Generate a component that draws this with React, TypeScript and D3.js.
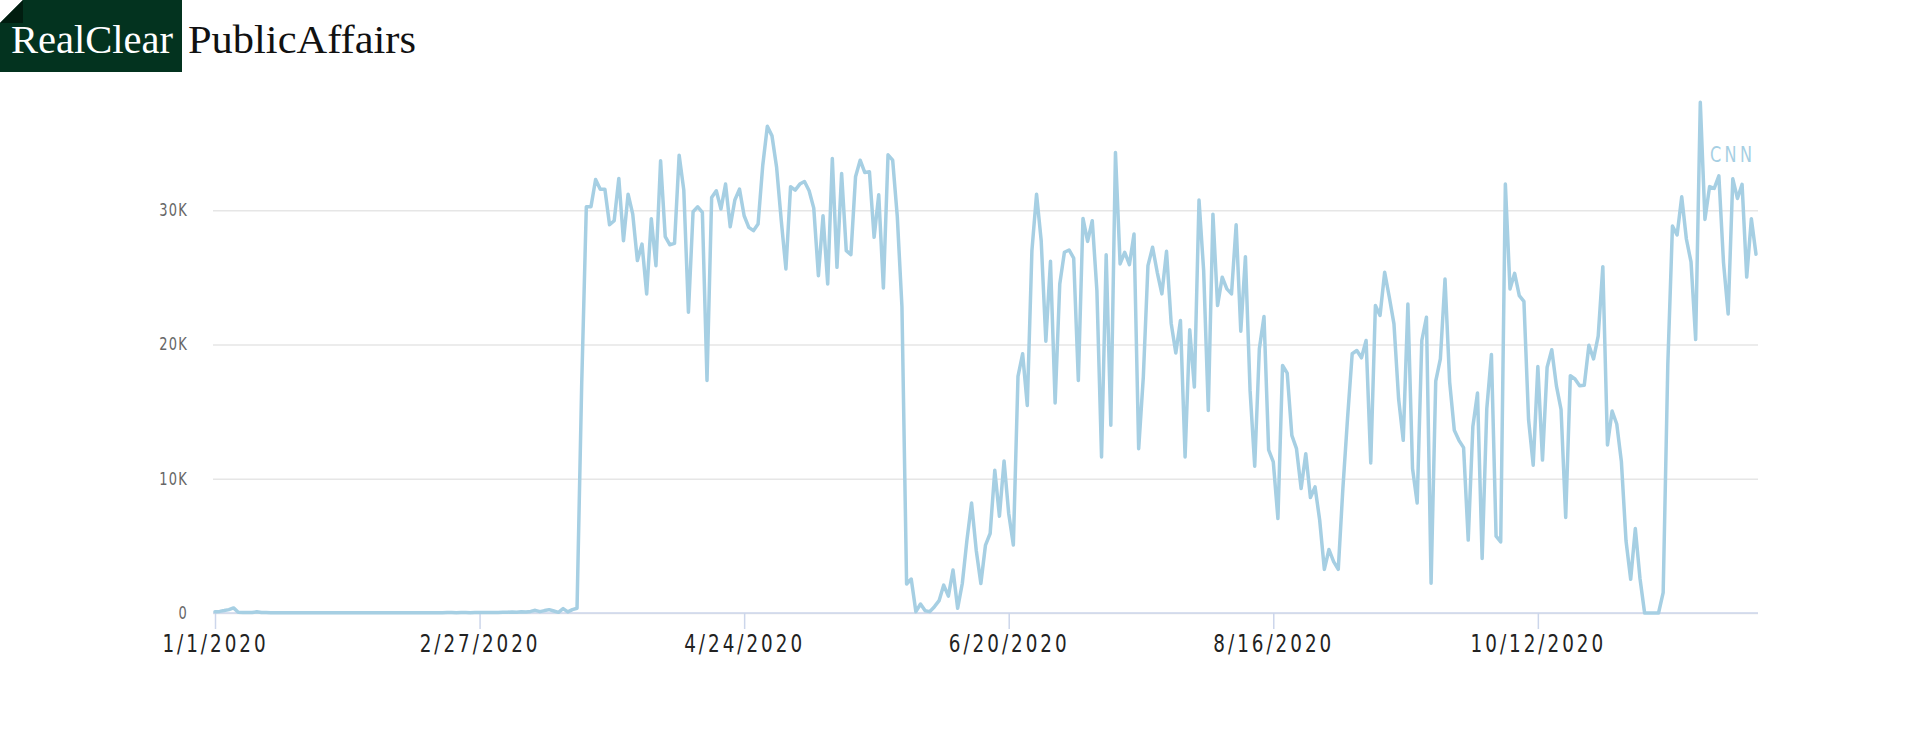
import { useEffect, useRef } from "react";
import * as d3 from "d3";

// daily CNN values, one per day starting 1/1/2020
const startDate = Date.UTC(2020, 0, 1);
const cnnValues: number[] = [
  // Jan
  100, 120, 180, 250, 380, 60, 40, 40, 40, 90,
  30, 30, 20, 20, 20, 20, 20, 20, 20, 20,
  20, 20, 20, 20, 20, 20, 20, 20, 20, 20,
  20, 20, 20, 20, 20, 20, 20, 20, 20, 20,
  20, 20, 20, 20, 20, 20, 20, 20, 20, 20,
  30, 30, 20, 30, 30, 20, 30, 30, 40, 30,
  40, 40, 60, 50, 80, 60, 100, 80, 120, 200,
  100, 180, 250, 150, 50, 330, 80, 250, 350, 17000,
  30260, 30260, 32290, 31570, 31570, 28920, 29220, 32370, 27730, 31200,
  29710, 26250, 27480, 23770, 29370, 25870, 33680, 28030, 27430, 27530,
  34100, 31500, 22400, 29890, 30260, 29840, 17320, 30950, 31450, 30090,
  31950, 28770, 30760, 31570, 29590, 28720, 28480, 28970, 33310, 36260,
  35540, 33180, 29220, 25630, 31750, 31500, 31950, 32140, 31450, 30160,
  25130, 29590, 24510, 33850, 25750, 32740, 26990, 26690, 32490, 33730,
  32810, 32860, 27980, 31150, 24210, 34130, 33730, 29500, 22800, 2160,
  2530, 100, 670, 170, 100, 470, 920, 2080, 1260, 3200,
  350, 2200, 5430, 8200, 4680, 2200, 5060, 5920, 10630, 7210,
  11330, 7410, 5060, 17620, 19310, 15460, 26990, 31200, 27730, 20250,
  26200, 15640, 24510, 26870, 27040, 26440, 17320, 29390, 27680, 29220,
  24010, 11620, 26690, 13980, 34300, 26000, 26870, 25950, 28230, 12240,
  17570, 25870, 27240, 25380, 23770, 26940, 21590, 19360, 21780, 11620,
  21090, 16830, 30760, 25500, 15090, 29710, 22900, 25010, 24140, 23770,
  28920, 20990, 26540, 16580, 10930, 19680, 22080, 12150, 11250, 7040,
  18440, 17870, 13230, 12240, 9270, 11870, 8600, 9390, 6910, 3250,
  4730, 3820, 3250, 9300, 14500, 19310, 19550, 19010, 20300, 11180,
  22900, 22160, 25380, 23520, 21540, 15960, 12860, 23020, 10760, 8200,
  20300, 22030, 2210, 17270, 18930, 24880, 17200, 13610, 12860, 12320,
  5430, 13900, 16380, 4060, 15220, 19260, 5720, 5300, 31950, 24140,
  25300, 23640, 23210, 14410, 11010, 18360, 11390, 18310, 19610, 16920,
  15160, 7120, 17680, 17430, 16920, 16970, 19940, 18930, 20620, 25800,
  12520, 15040, 14080, 11260, 5360, 2510, 6290, 2590, 0, 0,
  0, 0, 1510, 18500, 28820, 28160, 31000, 27860, 26150, 20370,
  38040, 29320, 31760, 31630, 32560, 26100, 22280, 32340, 30880, 31930,
  25020, 29370, 26730,
];

const seriesName = "CNN";
const xTickDates = [
  Date.UTC(2020, 0, 1),
  Date.UTC(2020, 1, 27),
  Date.UTC(2020, 3, 24),
  Date.UTC(2020, 5, 20),
  Date.UTC(2020, 7, 16),
  Date.UTC(2020, 9, 12),
];
const xTickLabels = ["1/1/2020", "2/27/2020", "4/24/2020", "6/20/2020", "8/16/2020", "10/12/2020"];
const yTickValues = [0, 10000, 20000, 30000];
const yTickLabels = ["0", "10K", "20K", "30K"];

const DAY = 24 * 3600 * 1000;
const condensed = "'DejaVu Sans Condensed', 'Liberation Sans Narrow', sans-serif";
const squeeze = 0.85; // narrow the condensed face a bit more

export default function App() {
  const width = 1920;
  const height = 740;
  const margin = { left: 215, right: 1920 - 1756, top: 76, bottom: 740 - 613 };
  const svgRef = useRef<SVGSVGElement | null>(null);

  useEffect(() => {
    if (!svgRef.current) return;
    const svg = d3.select(svgRef.current);
    svg.selectAll("*").remove();

    const data = cnnValues.map((v, i) => ({ date: new Date(startDate + i * DAY), value: v }));

    const x = d3
      .scaleUtc()
      .domain([data[0].date, data[data.length - 1].date])
      .range([margin.left, width - margin.right]);

    const y = d3
      .scaleLinear()
      .domain([0, 40000])
      .range([height - margin.bottom, margin.top]);

    const gridLeft = margin.left - 2;
    const gridRight = width - margin.right + 2;

    // logo
    const logo = svg.append("g");
    logo.append("rect").attr("x", 0).attr("y", 0).attr("width", 182).attr("height", 72).attr("fill", "#03331f");
    logo.append("path").attr("d", "M0,0 L23,0 L0,23 Z").attr("fill", "#ffffff");
    logo.append("path").attr("d", "M23,0 L23,23 L0,23 Z").attr("fill", "#011d10");
    logo
      .append("text")
      .attr("x", 11)
      .attr("y", 53)
      .attr("fill", "#ffffff")
      .attr("font-family", "'Liberation Serif', 'DejaVu Serif', serif")
      .attr("font-size", 41)
      .attr("textLength", 162)
      .attr("lengthAdjust", "spacingAndGlyphs")
      .text("RealClear");
    logo
      .append("text")
      .attr("x", 188)
      .attr("y", 53)
      .attr("fill", "#111111")
      .attr("font-family", "'Liberation Serif', 'DejaVu Serif', serif")
      .attr("font-size", 41)
      .attr("textLength", 228)
      .attr("lengthAdjust", "spacingAndGlyphs")
      .text("PublicAffairs");

    // y gridlines + labels
    const yAxis = svg
      .append("g")
      .attr("transform", `translate(${gridLeft},0)`)
      .call(
        d3
          .axisLeft(y)
          .tickValues(yTickValues)
          .tickFormat((_, i) => yTickLabels[i])
          .tickSize(-(gridRight - gridLeft))
          .tickPadding(25)
      );
    yAxis.select(".domain").remove();
    yAxis.selectAll(".tick line").attr("stroke", "#e6e6e6").attr("stroke-width", 1.5);
    yAxis
      .selectAll(".tick text")
      .attr("x", -25 / squeeze)
      .attr("transform", `scale(${squeeze},1)`)
      .attr("fill", "#666666")
      .attr("font-family", condensed)
      .attr("font-size", 17)
      .attr("letter-spacing", "1.5px");

    // x axis
    const xAxis = svg
      .append("g")
      .attr("transform", `translate(0,${height - margin.bottom})`)
      .call(
        d3
          .axisBottom(x)
          .tickValues(xTickDates.map((d) => new Date(d)))
          .tickFormat((_, i) => xTickLabels[i])
          .tickSizeInner(16)
          .tickSizeOuter(0)
          .tickPadding(6)
      );
    xAxis.select(".domain").attr("d", `M${gridLeft},0H${gridRight}`).attr("stroke", "#ccd6eb").attr("stroke-width", 1.5);
    xAxis.selectAll(".tick line").attr("stroke", "#ccd6eb").attr("stroke-width", 1.5);
    xAxis
      .selectAll(".tick text")
      .attr("transform", `scale(${squeeze},1)`)
      .attr("fill", "#222222")
      .attr("font-family", condensed)
      .attr("font-size", 24)
      .attr("letter-spacing", "3.5px");

    // line
    const line = d3
      .line<{ date: Date; value: number }>()
      .x((d) => x(d.date))
      .y((d) => y(d.value));

    svg
      .append("path")
      .datum(data)
      .attr("fill", "none")
      .attr("stroke", "#a6cfe3")
      .attr("stroke-width", 3.5)
      .attr("stroke-linejoin", "round")
      .attr("stroke-linecap", "round")
      .attr("d", line);

    svg
      .append("text")
      .attr("x", 1710 / squeeze)
      .attr("y", 162)
      .attr("transform", `scale(${squeeze},1)`)
      .attr("fill", "#a6cfe3")
      .attr("font-family", condensed)
      .attr("font-size", 21)
      .attr("letter-spacing", "4px")
      .text(seriesName);
  }, []);

  return (
    <div style={{ position: "absolute", left: 0, top: 0 }}>
      <svg ref={svgRef} width={width} height={height} style={{ display: "block", background: "#ffffff" }} />
    </div>
  );
}
